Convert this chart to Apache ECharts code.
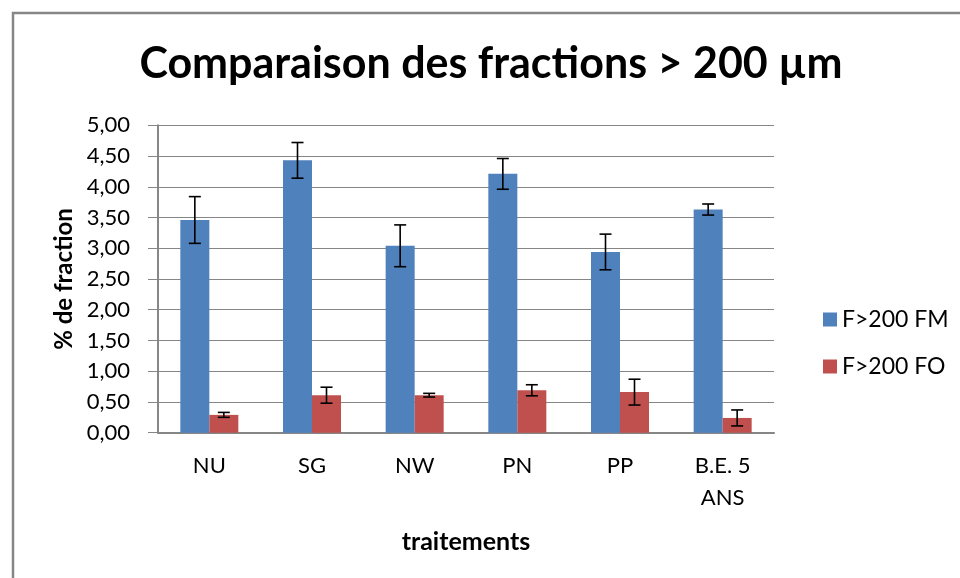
<!DOCTYPE html>
<html>
<head>
<meta charset="utf-8">
<script src="https://cdn.jsdelivr.net/npm/echarts@6/dist/echarts.min.js"></script>
<style>
html,body{margin:0;padding:0;background:#fff;}
#chart{width:960px;height:578px;}
</style>
</head>
<body>
<div id="chart"></div>
<script>
const categories = ['NU', 'SG', 'NW', 'PN', 'PP', 'B.E. 5\nANS'];
const seriesNames = ['F>200 FM', 'F>200 FO'];
const valuesFM = [3.46, 4.43, 3.04, 4.21, 2.94, 3.63];
const valuesFO = [0.29, 0.61, 0.61, 0.69, 0.66, 0.24];
const errFM = [0.38, 0.29, 0.34, 0.25, 0.29, 0.09];
const errFO = [0.04, 0.13, 0.03, 0.09, 0.21, 0.13];
const yTicks = ['0,00','0,50','1,00','1,50','2,00','2,50','3,00','3,50','4,00','4,50','5,00'];

const FONT = 'Lato';
const BAR_W = 29;
const GRAY = '#868686';

function errData(vals, errs) {
  return vals.map((v, i) => [i, v - errs[i], v + errs[i]]);
}
function errSeries(vals, errs, offset) {
  return {
    type: 'custom',
    z: 10,
    silent: true,
    data: errData(vals, errs),
    renderItem: function (params, api) {
      const i = api.value(0);
      const lo = api.coord([i, api.value(1)]);
      const hi = api.coord([i, api.value(2)]);
      const x = lo[0] + offset;
      const cap = 6;
      const st = { stroke: '#000', lineWidth: 1.6 };
      return {
        type: 'group',
        children: [
          { type: 'line', shape: { x1: x, y1: lo[1], x2: x, y2: hi[1] }, style: st },
          { type: 'line', shape: { x1: x - cap, y1: lo[1], x2: x + cap, y2: lo[1] }, style: st },
          { type: 'line', shape: { x1: x - cap, y1: hi[1], x2: x + cap, y2: hi[1] }, style: st }
        ]
      };
    }
  };
}

const chart = echarts.init(document.getElementById('chart'), null, { renderer: 'canvas' });
chart.setOption({
  animation: false,
  backgroundColor: '#fff',
  title: {
    text: 'Comparaison des fractions > 200 µm',
    left: 486, textAlign: 'center', top: 38,
    textStyle: { fontFamily: FONT, fontWeight: 'bold', fontSize: 43, color: '#000' }
  },
  graphic: [{
    type: 'polyline',
    shape: { points: [[13, 578], [13, 13], [960, 13]] },
    style: { stroke: GRAY, lineWidth: 2.5, fill: null }
  }],
  legend: {
    orient: 'vertical',
    left: 818, top: 303,
    itemWidth: 14, itemHeight: 14, itemGap: 24,
    icon: 'rect',
    textStyle: { fontFamily: FONT, fontSize: 23, color: '#000' },
    data: seriesNames
  },
  grid: { left: 158, right: 186, top: 125.3, bottom: 145.3, containLabel: false },
  xAxis: {
    type: 'category',
    data: categories,
    axisLine: { lineStyle: { color: GRAY, width: 2 } },
    axisTick: { show: false },
    axisLabel: { fontFamily: FONT, fontSize: 22, color: '#000', margin: 17, lineHeight: 32 },
    name: 'traitements',
    nameLocation: 'middle',
    nameGap: 97,
    nameTextStyle: { fontFamily: FONT, fontWeight: 'bold', fontSize: 25, color: '#000' }
  },
  yAxis: {
    type: 'value',
    min: 0, max: 5, interval: 0.5,
    axisLine: { show: true, lineStyle: { color: GRAY, width: 2 } },
    axisTick: { show: true, length: 10, lineStyle: { color: GRAY, width: 1 } },
    splitLine: { lineStyle: { color: GRAY, width: 1 } },
    axisLabel: {
      fontFamily: FONT, fontSize: 22, color: '#000', margin: 28,
      formatter: function (v) { return yTicks[Math.round(v / 0.5)]; }
    },
    name: '% de fraction',
    nameLocation: 'middle',
    nameRotate: 90,
    nameGap: 82,
    nameTextStyle: { fontFamily: FONT, fontWeight: 'bold', fontSize: 24, color: '#000' }
  },
  series: [
    { name: seriesNames[0], type: 'bar', data: valuesFM, barWidth: BAR_W, barGap: '0%', itemStyle: { color: '#4F81BD' } },
    { name: seriesNames[1], type: 'bar', data: valuesFO, barWidth: BAR_W, barGap: '0%', itemStyle: { color: '#C0504D' } },
    errSeries(valuesFM, errFM, -BAR_W / 2),
    errSeries(valuesFO, errFO, BAR_W / 2)
  ]
});
</script>
</body>
</html>
